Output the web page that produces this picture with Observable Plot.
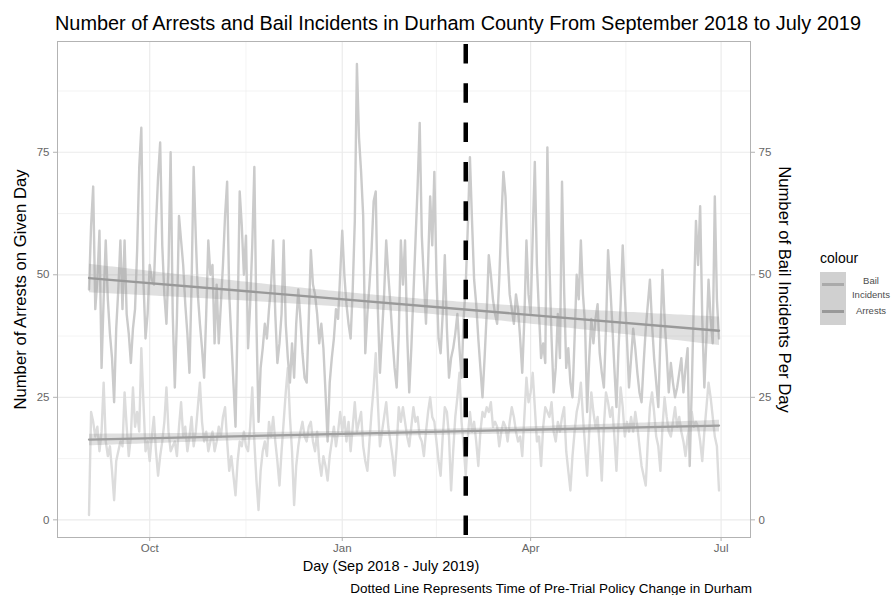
<!DOCTYPE html>
<html><head><meta charset="utf-8">
<script src="https://cdn.jsdelivr.net/npm/d3@7"></script>
<script src="https://cdn.jsdelivr.net/npm/@observablehq/plot@0.6"></script>
<style>
body{margin:0;background:#fff;font-family:"Liberation Sans",Arial,Helvetica,sans-serif;}
#wrap{position:relative;width:894px;height:595px;overflow:hidden;background:#fff;}
#title{height:36px;box-sizing:border-box;padding:13px 0 0 55px;font-size:19.9px;line-height:20px;color:#000;white-space:nowrap;}
#chart svg{display:block;}
#caption{position:absolute;left:0;width:752px;top:582px;text-align:right;font-size:13.5px;line-height:14px;color:#000;white-space:nowrap;}
.lg{position:absolute;}
#lgTitle{left:820px;top:249px;font-size:14px;line-height:18px;color:#000;}
#lgBox{left:820px;top:272px;width:26px;height:53px;background:#d0d0d0;}
.lgLine{left:822px;width:22px;height:2.5px;}
.lgLab{left:847px;width:48px;text-align:center;font-size:9.5px;line-height:14px;color:#4d4d4d;}
</style></head>
<body>
<div id="wrap">
  <div id="title">Number of Arrests and Bail Incidents in Durham County From September 2018 to July 2019</div>
  <div id="chart"></div>
  <div id="caption">Dotted Line Represents Time of Pre-Trial Policy Change in Durham</div>
  <div id="lgTitle" class="lg">colour</div>
  <div id="lgBox" class="lg"></div>
  <div class="lg lgLine" style="top:283px;background:#aaaaaa"></div>
  <div class="lg lgLine" style="top:310px;background:#999999"></div>
  <div class="lg lgLab" style="top:274px">Bail<br>Incidents</div>
  <div class="lg lgLab" style="top:304px">Arrests</div>
</div>
<script>
// ---- data (daily counts starting 2018-09-02) ----
const startDate = "2018-09-02";
const policyDate = "2019-03-01";
const yTicks = [0, 25, 50, 75];
const xTickDates = ["2018-10-01", "2019-01-01", "2019-04-01", "2019-07-01"];
const xTickLabels = ["Oct", "Jan", "Apr", "Jul"];

const arrestsSep = [47,60,68,43,49,59,31,45,57,45,38,33,24,39,47,57,43,57,42,38,32,39,43,55,72,80,49,37,42];
const arrestsOct = [52,49,48,60,70,77,56,46,40,52,75,42,27,41,62,57,52,44,38,30,48,72,58,46,40,35,29,42,57,50,52];
const arrestsNov = [36,48,36,44,52,62,69,46,37,28,19,41,67,60,50,58,35,44,56,72,40,20,31,35,40,37,43,48,57,42];
const arrestsDec = [32,36,42,57,40,33,28,36,29,40,47,41,34,29,28,41,55,48,46,42,36,40,35,26,16,28,33,37,43,41,50];
const arrestsJan = [59,50,44,40,37,47,61,93,78,71,62,34,42,48,55,65,67,43,30,38,46,57,50,44,37,31,27,38,57,48,57];
const arrestsFeb = [38,26,35,46,57,68,81,58,49,40,52,66,56,71,50,37,34,42,54,39,29,33,35,38,42,35,29,41];
const arrestsMar = [48,60,74,61,49,44,37,31,25,33,42,54,50,45,42,40,49,61,71,66,54,46,43,40,46,43,37,30,41,57,46];
const arrestsApr = [42,58,73,52,42,33,36,32,76,52,37,26,31,42,33,69,47,31,35,28,25,37,50,45,57,46,40,22,33,41];
const arrestsMay = [36,41,44,34,30,27,39,55,48,40,31,23,35,44,56,46,37,27,33,39,35,30,26,24,32,39,44,49,40,33,28];
const arrestsJun = [23,37,51,41,34,26,32,28,25,27,30,33,26,31,35,11,27,45,61,52,64,41,27,37,49,41,36,66,45,37];

const bailSep = [1,22,20,17,19,14,18,28,16,13,15,10,4,12,14,16,15,26,19,13,17,27,19,22,18,35,24,14,16];
const bailOct = [12,17,21,14,9,13,16,20,27,18,14,15,16,13,19,24,17,19,14,17,21,15,18,23,28,20,16,18,14,16,18];
const bailNov = [14,16,19,17,21,23,16,10,13,9,5,12,16,15,18,15,14,19,27,16,8,2,10,14,16,13,20,17,21,16];
const bailDec = [12,7,14,20,26,31,21,14,3,11,15,18,20,17,16,19,20,16,14,18,12,9,13,11,8,13,16,19,15,18,22];
const bailJan = [18,21,16,20,14,19,24,18,20,22,15,12,10,16,22,27,34,24,15,18,21,24,19,16,13,9,15,23,20,23,20];
const bailFeb = [17,15,19,23,20,21,17,16,13,18,22,25,21,20,16,12,9,17,23,22,17,6,14,21,25,30,20,15];
const bailMar = [9,17,22,18,20,16,11,18,22,21,23,22,24,19,20,19,15,18,20,19,16,20,23,21,18,16,17,13,21,29,24];
const bailApr = [26,30,23,16,17,11,19,23,22,21,24,18,16,20,18,21,23,14,10,6,13,18,22,24,28,21,15,9,18,26];
const bailMay = [22,19,21,15,8,19,26,24,21,23,17,10,20,27,23,17,20,18,21,18,22,19,15,11,9,7,16,23,26,22,17];
const bailJun = [15,10,19,25,21,18,17,20,23,19,21,18,16,13,17,19,22,19,20,19,16,12,18,23,28,25,21,17,15,6];

// ---- assemble ----
const arrests = [].concat(arrestsSep, arrestsOct, arrestsNov, arrestsDec, arrestsJan, arrestsFeb, arrestsMar, arrestsApr, arrestsMay, arrestsJun);
const bail = [].concat(bailSep, bailOct, bailNov, bailDec, bailJan, bailFeb, bailMar, bailApr, bailMay, bailJun);
const t0 = new Date(startDate);
const toRows = (vals, series) => vals.map((v, i) => ({date: d3.utcDay.offset(t0, i), value: v, series}));
const arrestRows = toRows(arrests, "Arrests");
const bailRows = toRows(bail, "Bail Incidents");
const all = arrestRows.concat(bailRows);

const [dmin, dmax] = d3.extent(all, d => d.date);
const dpad = (dmax - dmin) * 0.05;
const xDomain = [new Date(+dmin - dpad), new Date(+dmax + dpad)];
const [vmin, vmax] = d3.extent(all, d => d.value);
const vpad = (vmax - vmin) * 0.05;
const yDomain = [vmin - vpad, vmax + vpad];

const xTicks = xTickDates.map(s => new Date(s));
const xMinor = d3.pairs(xTicks).map(([a, b]) => new Date((+a + +b) / 2));
const yStep = yTicks[1] - yTicks[0];
const yMinor = yTicks.map(t => t + yStep / 2).filter(t => t < yDomain[1]);
const labelOf = d => xTickLabels[xTicks.findIndex(t => +t === +d)];

const tickColor = "#b3b3b3", labelColor = "#666", gridColor = "#ebebeb";

const chart = Plot.plot({
  width: 894,
  height: 538,
  marginTop: 5,
  marginBottom: 37,
  marginLeft: 57,
  marginRight: 144,
  style: {fontFamily: "'Liberation Sans', Arial, Helvetica, sans-serif", background: "white", overflow: "visible"},
  x: {type: "utc", domain: xDomain, axis: null},
  y: {domain: yDomain, axis: null},
  marks: [
    Plot.gridY(yMinor, {stroke: gridColor, strokeOpacity: 1, strokeWidth: 0.6}),
    Plot.gridX(xMinor, {stroke: gridColor, strokeOpacity: 1, strokeWidth: 0.6}),
    Plot.gridY(yTicks, {stroke: gridColor, strokeOpacity: 1, strokeWidth: 1.2}),
    Plot.gridX(xTicks, {stroke: gridColor, strokeOpacity: 1, strokeWidth: 1.2}),
    Plot.line(bailRows, {x: "date", y: "value", stroke: "#dcdcdc", strokeWidth: 2.4}),
    Plot.line(arrestRows, {x: "date", y: "value", stroke: "#cbcbcb", strokeWidth: 2.4}),
    Plot.linearRegressionY(arrestRows, {x: "date", y: "value", stroke: "#999", strokeWidth: 2.3, fill: "#999", fillOpacity: 0.3}),
    Plot.linearRegressionY(bailRows, {x: "date", y: "value", stroke: "#9e9e9e", strokeWidth: 2.3, fill: "#999", fillOpacity: 0.3}),
    Plot.ruleX([new Date(policyDate)], {stroke: "#000", strokeWidth: 4.5, strokeDasharray: "19.5,19.8", strokeDashoffset: 36.3}),
    Plot.frame({stroke: tickColor, strokeWidth: 1}),
    Plot.axisY(yTicks, {anchor: "left", tickSize: 4, tickPadding: 4, fontSize: 11.5, stroke: tickColor, fill: labelColor, label: null}),
    Plot.axisY(yTicks, {anchor: "right", tickSize: 4, tickPadding: 4, fontSize: 11.5, stroke: tickColor, fill: labelColor, label: null}),
    Plot.axisX(xTicks, {anchor: "bottom", tickSize: 4, tickPadding: 2, fontSize: 11.5, stroke: tickColor, fill: labelColor, tickFormat: labelOf, label: null}),
    Plot.text(["Number of Arrests on Given Day"], {frameAnchor: "left", textAnchor: "middle", lineAnchor: "middle", rotate: -90, dx: -37, fontSize: 16.7, fill: "#000"}),
    Plot.text(["Number of Bail Incidents Per Day"], {frameAnchor: "right", textAnchor: "middle", lineAnchor: "middle", rotate: 90, dx: 34, fontSize: 16.7, fill: "#000"}),
    Plot.text(["Day (Sep 2018 - July 2019)"], {frameAnchor: "bottom", textAnchor: "middle", lineAnchor: "middle", dx: -13, dy: 29, fontSize: 14.5, fill: "#000"})
  ]
});
document.getElementById("chart").appendChild(chart);
</script>
</body></html>
